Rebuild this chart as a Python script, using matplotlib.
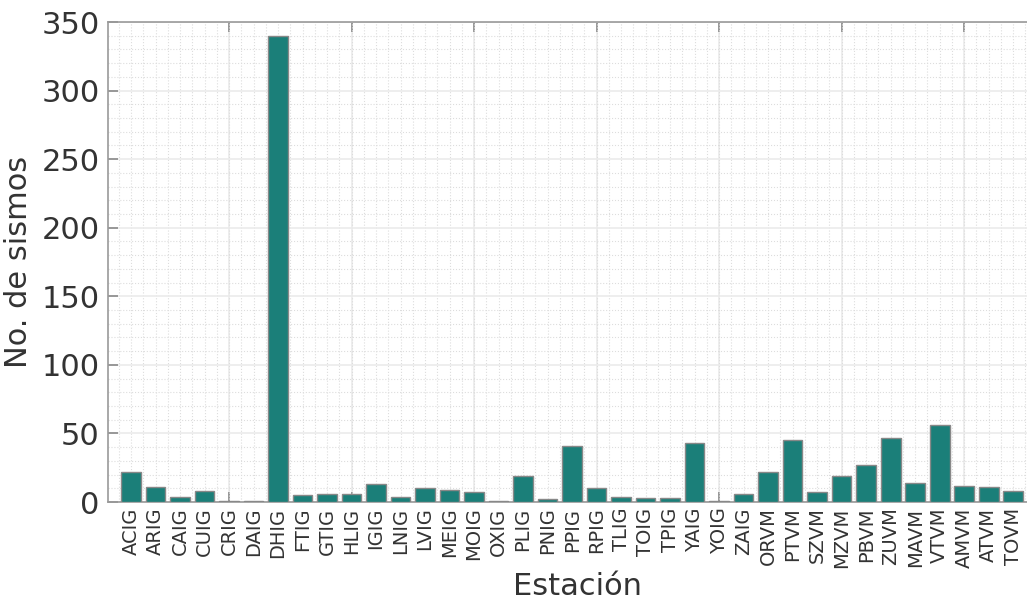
import matplotlib
matplotlib.use("Agg")
import matplotlib.pyplot as plt
from matplotlib.ticker import MultipleLocator, FuncFormatter

estaciones = ["ACIG", "ARIG", "CAIG", "CUIG", "CRIG", "DAIG", "DHIG", "FTIG", "GTIG",
              "HLIG", "IGIG", "LNIG", "LVIG", "MEIG", "MOIG", "OXIG", "PLIG", "PNIG",
              "PPIG", "RPIG", "TLIG", "TOIG", "TPIG", "YAIG", "YOIG", "ZAIG", "ORVM",
              "PTVM", "SZVM", "MZVM", "PBVM", "ZUVM", "MAVM", "VTVM", "AMVM", "ATVM",
              "TOVM"]
sismos = [22, 11, 4, 8, 1, 1, 340, 5, 6,
          6, 13, 4, 10, 9, 7, 1, 19, 2,
          41, 10, 4, 3, 3, 43, 1, 6, 22,
          45, 7, 19, 27, 47, 14, 56, 12, 11,
          8]

pos = list(range(1, len(estaciones) + 1))

fig = plt.figure(figsize=(10.27, 6.04), dpi=100)
ax = fig.add_axes([108/1027, 102/604, 1 - 108/1027 + 0.02, 480/604])

ax.bar(pos, sismos, width=0.8, color="#1b7f79", edgecolor="#888888", linewidth=1, zorder=3)

ax.set_xlim(0.06, 38.4)
ax.set_ylim(0, 350)

# ticks mayores cada 5, etiquetas de estación en los menores
ax.xaxis.remove_overlapping_locs = False
ax.xaxis.set_major_locator(MultipleLocator(5))
ax.xaxis.set_minor_locator(MultipleLocator(0.5))
ax.yaxis.set_major_locator(MultipleLocator(50))
ax.yaxis.set_minor_locator(MultipleLocator(10))

def etiqueta(x, p):
    i = int(round(x))
    if abs(x - i) < 1e-6 and 1 <= i <= len(estaciones):
        return estaciones[i - 1]
    return ""

ax.xaxis.set_major_formatter(FuncFormatter(lambda x, p: ""))
ax.xaxis.set_minor_formatter(FuncFormatter(etiqueta))

ax.tick_params(axis="x", which="minor", length=0, labelsize=14, rotation=90,
               labelcolor="#333333", pad=4)
ax.tick_params(axis="x", which="major", direction="in", top=True, length=7,
               color="#888888", width=1.2)
ax.tick_params(axis="y", which="major", direction="in", length=7, color="#888888",
               width=1.2, labelsize=22, labelcolor="#333333", pad=6)
ax.tick_params(axis="y", which="minor", length=0)

ax.grid(which="major", color="#ebebeb", linewidth=1.2, zorder=0)
ax.grid(which="minor", color="#dddddd", linestyle=":", linewidth=0.8, zorder=0)
ax.set_axisbelow(True)

for s in ax.spines.values():
    s.set_color("#999999")
    s.set_linewidth(1.2)

ax.set_xlabel("Estación", fontsize=22, color="#333333", labelpad=3)
ax.set_ylabel("No. de sismos", fontsize=22, color="#333333", labelpad=6)

fig.savefig("out.png", dpi=100)
